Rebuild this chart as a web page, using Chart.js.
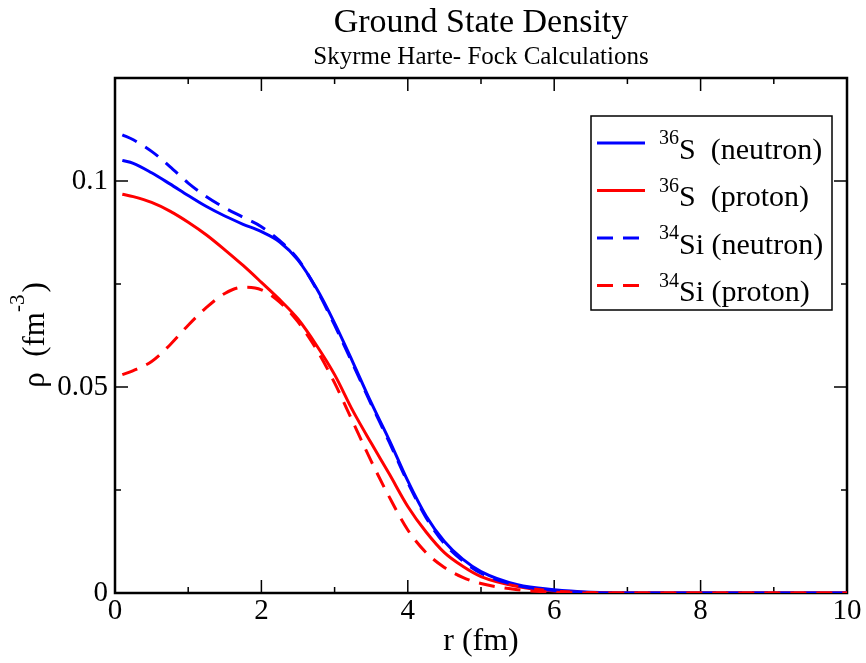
<!DOCTYPE html>
<html>
<head>
<meta charset="utf-8">
<script src="https://cdn.jsdelivr.net/npm/chart.js@4.4.1/dist/chart.umd.min.js"></script>
<style>
  html, body { margin: 0; padding: 0; background: #fff; }
  #wrap { width: 866px; height: 663px; }
</style>
</head>
<body>
<div id="wrap"><canvas id="density"></canvas></div>
<script>
// radius grid (fm)
var r = [0.1, 0.25, 0.5, 0.75, 1.0, 1.25, 1.5, 1.75, 2.0, 2.25, 2.5, 2.75, 3.0, 3.25, 3.5,
         3.75, 4.0, 4.25, 4.5, 4.75, 5.0, 5.5, 6.0, 6.5, 7.0, 8.0, 9.0, 10.0];

// densities (fm^-3)
var s36Neutron = [0.1050, 0.1043, 0.1020, 0.0993, 0.0965, 0.0938, 0.0915, 0.0895, 0.0877, 0.0852,
                  0.0808, 0.0740, 0.0655, 0.0560, 0.0462, 0.0370, 0.0272, 0.0187, 0.0125, 0.0082,
                  0.0052, 0.0020, 0.0008, 0.0002, 0, 0, 0, 0];
var s36Proton  = [0.0968, 0.0962, 0.0948, 0.0927, 0.0900, 0.0869, 0.0833, 0.0795, 0.0754, 0.0712,
                  0.0665, 0.0602, 0.0530, 0.0442, 0.0364, 0.0288, 0.0210, 0.0148, 0.0098, 0.0065,
                  0.0040, 0.0016, 0.0005, 0.0001, 0, 0, 0, 0];
var si34Neutron = [0.1112, 0.1100, 0.1072, 0.1035, 0.0995, 0.0962, 0.0935, 0.0912, 0.0889, 0.0855,
                   0.0810, 0.0738, 0.0650, 0.0555, 0.0458, 0.0365, 0.0268, 0.0183, 0.0120, 0.0078,
                   0.0048, 0.0018, 0.0006, 0.0001, 0, 0, 0, 0];
var si34Proton  = [0.0530, 0.0540, 0.0562, 0.0602, 0.0650, 0.0693, 0.0727, 0.0742, 0.0736, 0.0706,
                   0.0658, 0.0592, 0.0510, 0.0415, 0.0320, 0.0232, 0.0153, 0.0098, 0.0062, 0.0038,
                   0.0023, 0.0008, 0.0002, 0, 0, 0, 0, 0];

// legend labels: superscript mass number + rest
var legendSup  = ["36", "36", "34", "34"];
var legendText = ["S  (neutron)", "S  (proton)", "Si (neutron)", "Si (proton)"];

// ticks
var xMajor = [0, 2, 4, 6, 8, 10];
var xMinor = [1, 3, 5, 7, 9];
var yMajor = [0, 0.05, 0.1];
var yMinor = [0.025, 0.075];

var SERIF = "'Liberation Serif', 'Times New Roman', serif";

function pts(ys) {
    return r.map(function (x, i) { return { x: x, y: ys[i] }; });
}

function series(i, ys, color, dashed, order) {
    return {
        label: legendSup[i] + legendText[i],
        sup: legendSup[i],
        text: legendText[i],
        data: pts(ys),
        borderColor: color,
        backgroundColor: color,
        borderWidth: 3,
        borderDash: dashed ? [16, 10] : [],
        pointRadius: 0,
        cubicInterpolationMode: "monotone",
        fill: false,
        order: order,
    };
}

// frame, inward ticks, titles, y title and legend
var decor = {
    id: "decor",
    beforeDatasetsDraw: function (chart) {
        var ctx = chart.ctx, a = chart.chartArea;
        var xs = chart.scales.x, ys = chart.scales.y;
        ctx.save();
        ctx.strokeStyle = "#000";
        ctx.lineWidth = 1.5;
        ctx.beginPath();
        xMajor.forEach(function (v) {
            var p = xs.getPixelForValue(v);
            ctx.moveTo(p, a.bottom); ctx.lineTo(p, a.bottom - 13);
            ctx.moveTo(p, a.top); ctx.lineTo(p, a.top + 13);
        });
        xMinor.forEach(function (v) {
            var p = xs.getPixelForValue(v);
            ctx.moveTo(p, a.bottom); ctx.lineTo(p, a.bottom - 6);
            ctx.moveTo(p, a.top); ctx.lineTo(p, a.top + 6);
        });
        yMajor.forEach(function (v) {
            var p = ys.getPixelForValue(v);
            ctx.moveTo(a.left, p); ctx.lineTo(a.left + 13, p);
            ctx.moveTo(a.right, p); ctx.lineTo(a.right - 13, p);
        });
        yMinor.forEach(function (v) {
            var p = ys.getPixelForValue(v);
            ctx.moveTo(a.left, p); ctx.lineTo(a.left + 6, p);
            ctx.moveTo(a.right, p); ctx.lineTo(a.right - 6, p);
        });
        ctx.stroke();
        ctx.lineWidth = 2.5;
        ctx.strokeRect(a.left, a.top, a.right - a.left, a.bottom - a.top);
        ctx.restore();
    },
    afterDraw: function (chart) {
        var ctx = chart.ctx, a = chart.chartArea;
        var cx = (a.left + a.right) / 2;
        ctx.save();
        ctx.fillStyle = "#000";
        ctx.textBaseline = "alphabetic";

        // titles
        ctx.textAlign = "center";
        ctx.font = "34px " + SERIF;
        ctx.fillText("Ground State Density", cx, 32);
        ctx.font = "25px " + SERIF;
        ctx.fillText("Skyrme Harte- Fock Calculations", cx, 64);

        // y axis title: rho (fm^-3)
        ctx.save();
        ctx.translate(44, 336);
        ctx.rotate(-Math.PI / 2);
        ctx.textAlign = "left";
        var big = "31px " + SERIF, small = "21px " + SERIF;
        ctx.font = big;
        var w1 = ctx.measureText("\u03c1  (fm").width;
        var w3 = ctx.measureText(")").width;
        ctx.font = small;
        var w2 = ctx.measureText("-3").width;
        var x0 = -(w1 + w2 + w3) / 2;
        ctx.font = big;
        ctx.fillText("\u03c1  (fm", x0, 0);
        ctx.font = small;
        ctx.fillText("-3", x0 + w1, -20);
        ctx.font = big;
        ctx.fillText(")", x0 + w1 + w2 + 2, 0);
        ctx.restore();

        // legend box
        var bx = 591, by = 116, bw = 241, bh = 194;
        ctx.fillStyle = "#fff";
        ctx.fillRect(bx, by, bw, bh);
        ctx.strokeStyle = "#000";
        ctx.lineWidth = 1.5;
        ctx.strokeRect(bx, by, bw, bh);
        chart.data.datasets.forEach(function (ds, i) {
            var ly = 143 + i * 47.5;
            ctx.save();
            ctx.strokeStyle = ds.borderColor;
            ctx.lineWidth = 3;
            ctx.setLineDash(ds.borderDash);
            ctx.beginPath();
            ctx.moveTo(597, ly);
            ctx.lineTo(645, ly);
            ctx.stroke();
            ctx.restore();
            ctx.fillStyle = "#000";
            ctx.textAlign = "left";
            ctx.font = "20px " + SERIF;
            ctx.fillText(ds.sup, 659, ly + 1);
            var sw = ctx.measureText(ds.sup).width;
            ctx.font = "30px " + SERIF;
            ctx.fillText(ds.text, 659 + sw, ly + 15.5);
        });
        ctx.restore();
    }
};

new Chart(document.getElementById("density"), {
    type: "line",
    data: {
        datasets: [
            series(0, s36Neutron, "#0000ff", false, 4),
            series(1, s36Proton, "#ff0000", false, 3),
            series(2, si34Neutron, "#0000ff", true, 2),
            series(3, si34Proton, "#ff0000", true, 1),
        ],
    },
    options: {
        responsive: true,
        maintainAspectRatio: false,
        animation: false,
        layout: {
            padding: { top: 78, right: 19, left: 0, bottom: 0 },
        },
        plugins: {
            legend: { display: false },
            tooltip: { enabled: false },
        },
        scales: {
            x: {
                type: "linear",
                min: 0,
                max: 10,
                afterFit: function (s) { s.height = 70; },
                afterBuildTicks: function (s) {
                    s.ticks = xMajor.map(function (v) { return { value: v }; });
                },
                grid: { display: false, drawTicks: false },
                border: { display: false },
                ticks: {
                    color: "#000",
                    padding: 1,
                    maxRotation: 0,
                    font: { family: SERIF, size: 29 },
                },
                title: {
                    display: true,
                    text: "r (fm)",
                    color: "#000",
                    font: { family: SERIF, size: 32 },
                    padding: { top: 0, bottom: 2 },
                },
            },
            y: {
                type: "linear",
                min: 0,
                max: 0.125,
                afterFit: function (s) { s.width = 115; },
                afterBuildTicks: function (s) {
                    s.ticks = yMajor.map(function (v) { return { value: v }; });
                },
                grid: { display: false, drawTicks: false },
                border: { display: false },
                ticks: {
                    color: "#000",
                    padding: 7,
                    font: { family: SERIF, size: 29 },
                    callback: function (v) { return String(v); },
                },
            },
        },
    },
    plugins: [decor],
});
</script>
</body>
</html>
